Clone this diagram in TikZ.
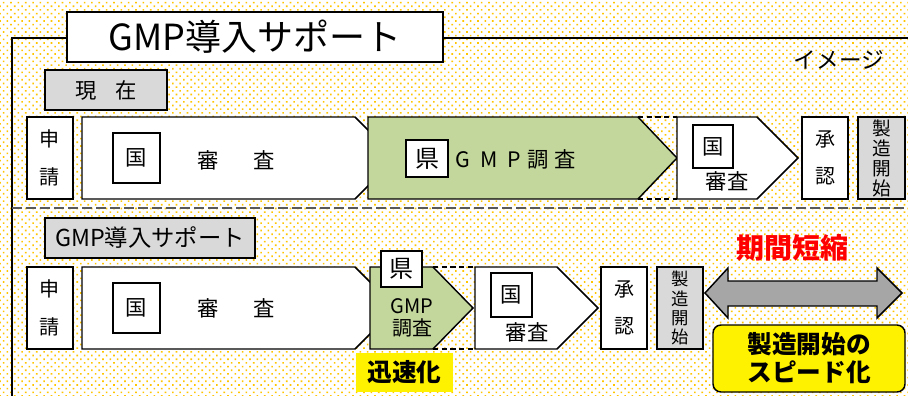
\documentclass[tikz,border=0pt]{standalone}
\usepackage{fontspec}
\setmainfont{Noto Sans CJK JP}
\usetikzlibrary{patterns.meta,fit}
\definecolor{dotc}{HTML}{FFC600}
\definecolor{grn}{HTML}{C3D69B}
\definecolor{gry}{HTML}{D9D9D9}
\definecolor{arrg}{HTML}{A6A6A6}
\definecolor{sepc}{HTML}{595959}
\tikzset{
  bx/.style={draw, line width=1.1pt, inner sep=0pt, fill=white},
  gbx/.style={bx, fill=gry},
  shp/.style={draw, line width=1.1pt, line join=miter},
  dsh/.style={draw, line width=1.1pt, dash pattern=on 4pt off 2.5pt},
  fA/.style={font=\fontsize{16}{19}\selectfont},
  fB/.style={font=\fontsize{15}{28}\selectfont, align=center},
  fC/.style={font=\fontsize{14}{15}\selectfont, align=center},
  fD/.style={font=\fontsize{13}{14.3}\selectfont, align=center},
}
\begin{document}
\begin{tikzpicture}[x=0.75pt,y=-0.75pt]
\useasboundingbox (0,0) rectangle (908,396);
\fill[white] (0,0) rectangle (908,396);
\fill[pattern={Dots[radius=0.85pt,distance=3.9pt,angle=45]}, pattern color=dotc] (0,0) rectangle (908,396);

% frame and separator
\draw[line width=1.5pt] (12,397) -- (12,38) -- (909,38);
\draw[sepc, line width=1.5pt, dash pattern=on 7.5pt off 3pt] (12,208) -- (909,208);

% title
\node[bx, line width=1.5pt, fit={(67,12)(443,62)}] (title) {};
\node[font=\fontsize{27}{30}\selectfont] (titlet) at (title.center) {GMP導入サポート};
\node[font=\fontsize{17}{20}\selectfont] (image) at (839,60) {イメージ};

% ===== upper row =====
\node[gbx, fit={(45,70)(167,110)}] (now) {};
\node[fA] (nowt) at (now.center) {現\hspace{0.9em}在};
\node[bx, fit={(27,117)(73,199)}] (app1) {};
\node[fB] (app1t) at (app1.center) {申\\請};
\path[shp, fill=white] (82,117) -- (355,117) -- (396,158) -- (355,199) -- (82,199) -- cycle;
\node[bx, fit={(113,133)(160,183)}] (koku1) {};
\node[fA] (koku1t) at (koku1.center) {国};
\node[fA] (rev1) at (236,160) {審\hspace{1.6em}査};
\path[shp, fill=grn] (368,117) -- (638,117) -- (677,158) -- (638,199) -- (368,199) -- cycle;
\draw[dsh] (638,117) -- (677,117);
\draw[dsh] (638,199) -- (677,199);
\node[bx, fit={(406,140)(448,177)}] (ken1) {};
\node[font=\fontsize{18}{20}\selectfont] (ken1t) at (ken1.center) {県};
\node[fA] (gmp1) at (516,159) {G\hspace{0.45em}M\hspace{0.45em}P\hspace{0.3em}調\hspace{0.3em}査};
\path[shp, fill=white] (677,117) -- (757,117) -- (798,158) -- (757,199) -- (677,199) -- cycle;
\node[bx, fit={(693,125)(733,168)}] (koku1b) {};
\node[fA] (koku1bt) at (koku1b.center) {国};
\node[fA] (rev1b) at (727,181) {審査};
\node[bx, fit={(802,117)(848,199)}] (appr1) {};
\node[fB] (appr1t) at (appr1.center) {承\\認};
\node[gbx, fit={(858,117)(905,199)}] (start1) {};
\node[fC] (start1t) at (start1.center) {製\\造\\開\\始};

% ===== lower row =====
\node[gbx, fit={(45,218)(255,258)}] (sup) {};
\node[font=\fontsize{17.5}{20}\selectfont] (supt) at (sup.center) {GMP導入サポート};
\node[bx, fit={(27,267)(73,349)}] (app2) {};
\node[fB] (app2t) at (app2.center) {申\\請};
\path[shp, fill=white] (82,267) -- (355,267) -- (396,308) -- (355,349) -- (82,349) -- cycle;
\node[bx, fit={(113,283)(160,333)}] (koku2) {};
\node[fA] (koku2t) at (koku2.center) {国};
\node[fA] (rev2) at (236,308) {審\hspace{1.6em}査};
\path[shp, fill=grn] (370,267) -- (433,267) -- (473,308) -- (433,349) -- (370,349) -- cycle;
\draw[dsh] (433,267) -- (475,267);
\draw[dsh] (433,349) -- (475,349);
\node[bx, fit={(381,251)(422,287)}] (ken2) {};
\node[font=\fontsize{18}{20}\selectfont] (ken2t) at (ken2.center) {県};
\node[font=\fontsize{15}{16}\selectfont, align=center] (gmp2) at (412,318) {GMP\\調査};
\node[fill=yellow, inner sep=0pt, fit={(356,353)(453,392)}] (fast) {};
\node[font=\fontsize{18.5}{21}\selectfont\bfseries] (fastt) at (fast.center) {迅速化};
\path[shp, fill=white] (475,267) -- (557,267) -- (598,308) -- (557,349) -- (475,349) -- cycle;
\node[bx, fit={(491,273)(532,317)}] (koku2b) {};
\node[fA] (koku2bt) at (koku2b.center) {国};
\node[fA] (rev2b) at (527,332) {審査};
\node[bx, fit={(601,267)(647,349)}] (appr2) {};
\node[fB] (appr2t) at (appr2.center) {承\\認};
\node[gbx, fit={(657,267)(703,349)}] (start2) {};
\node[fD] (start2t) at (start2.center) {製\\造\\開\\始};

% double arrow
\path[shp, fill=arrg] (705,293) -- (728,268) -- (728,281) -- (877,281) -- (877,268) -- (902,293) -- (877,318) -- (877,306) -- (728,306) -- (728,318) -- cycle;
\node[text=red, font=\fontsize{21}{24}\selectfont\bfseries] (short) at (792,248) {期間短縮};
\node[draw, line width=1.1pt, fill=yellow, rounded corners=6pt, inner sep=0pt, fit={(713,325)(905,392)}] (speed) {};
\node[font=\fontsize{18.5}{21}\selectfont\bfseries, align=center] (speedt) at (speed.center) {製造開始の\\スピード化};
\end{tikzpicture}
\end{document}
